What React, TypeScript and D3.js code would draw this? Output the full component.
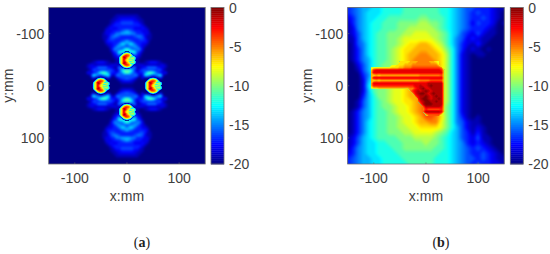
import React from 'react';
import * as d3 from 'd3';

// each character is one grid value: base-36 digit = dB above -20, '.' = nothing there
const fieldA = [ // x -100..100, y -135..135, 5 mm grid
  '00000 00000 00000 01111 11111 00000 00000 00000 0',
  '00000 00000 00000 11222 22221 10000 00000 00000 0',
  '00000 00000 00001 12233 33322 11000 00000 00000 0',
  '00000 00000 00001 23344 44433 21000 00000 00000 0',
  '00000 00000 00012 33333 33333 32100 00000 00000 0',
  '00000 00000 00123 22333 33322 23210 00000 00000 0',
  '00000 00000 00222 33345 65433 32220 00000 00000 0',
  '00000 00000 01223 35566 66553 33221 00000 00000 0',
  '00000 00000 01124 55433 33345 54211 00000 00000 0',
  '00000 00000 01134 43333 33333 44311 00000 00000 0',
  '00000 00000 00233 33345 75433 33320 00000 00000 0',
  '00000 00000 00122 33577 57753 32210 00000 00000 0',
  '00000 00000 00012 35654 34565 32100 00000 00000 0',
  '00000 00000 00002 55447 a7445 52000 00000 00000 0',
  '00000 00000 00001 34898 78984 31000 00000 00000 0',
  '00000 00000 00000 23621 01263 20000 00000 00000 0',
  '00000 00000 00000 12300 00032 10000 00000 00000 0',
  '00000 00000 00000 01100 00011 00000 00000 00000 0',
  '00000 00123 33210 01100 00011 00123 33210 00000 0',
  '00000 12211 11112 22100 00012 22111 11122 10000 0',
  '00000 12235 55532 11641 11461 12355 55322 10000 0',
  '00000 01443 33344 31379 99731 34433 33441 00000 0',
  '00000 32236 9a953 32458 a8542 3359a 96322 30000 0',
  '00000 01875 35782 15544 34455 12875 35781 00000 0',
  '00000 00300 00030 01344 54431 03000 00030 00000 0',
  '00000 00000 00000 00123 33210 00000 00000 00000 0',
  '00000 00000 00000 00011 11100 00000 00000 00000 0',
  '00000 00000 00000 00000 00000 00000 00000 00000 0',
  '00000 00000 00000 00011 11100 00000 00000 00000 0',
  '00000 00000 00000 00123 33210 00000 00000 00000 0',
  '00000 00300 00030 01344 54431 03000 00030 00000 0',
  '00000 01875 35782 15544 34455 12875 35781 00000 0',
  '00000 32236 9a953 32458 a8542 3359a 96322 30000 0',
  '00000 01443 33344 31379 99731 34433 33441 00000 0',
  '00000 12235 55532 11641 11461 12355 55322 10000 0',
  '00000 12211 11112 22100 00012 22111 11122 10000 0',
  '00000 00123 33210 01100 00011 00123 33210 00000 0',
  '00000 00000 00000 01100 00011 00000 00000 00000 0',
  '00000 00000 00000 12300 00032 10000 00000 00000 0',
  '00000 00000 00000 23621 01263 20000 00000 00000 0',
  '00000 00000 00001 34898 78984 31000 00000 00000 0',
  '00000 00000 00002 55447 a7445 52000 00000 00000 0',
  '00000 00000 00012 35654 34565 32100 00000 00000 0',
  '00000 00000 00122 33577 57753 32210 00000 00000 0',
  '00000 00000 00233 33345 75433 33320 00000 00000 0',
  '00000 00000 01134 43333 33333 44311 00000 00000 0',
  '00000 00000 01124 55433 33345 54211 00000 00000 0',
  '00000 00000 01223 35566 66553 33221 00000 00000 0',
  '00000 00000 00222 33345 65433 32220 00000 00000 0',
  '00000 00000 00123 22333 33322 23210 00000 00000 0',
  '00000 00000 00012 33333 33333 32100 00000 00000 0',
  '00000 00000 00001 23344 44433 21000 00000 00000 0',
  '00000 00000 00001 12233 33322 11000 00000 00000 0',
  '00000 00000 00000 11222 22221 10000 00000 00000 0',
  '00000 00000 00000 01111 11111 00000 00000 00000 0',
];

const spotCells = [ // 2 mm grid, x -18..18, y -16..16 round each feed
  '.......00000.......',
  '.....0467a7640.....',
  '....05acdedca50....',
  '...06bdfgggfdb60...',
  '..06bdghihgfcb960..',
  '..6bdgjjhfed766a96.',
  '.07bdfijhfdcbccb97.',
  '.07bdfihedc7667b97.',
  '.07bdfigedccddb97..',
  '.07bdfihedc7667b97.',
  '.07bdfijhfdcbccb97.',
  '..6bdgjjhfed766a96.',
  '..06bdghihgfcb960..',
  '...06bdfgggfdb60...',
  '....05acdedca50....',
  '.....0467a7640.....',
  '.......00000.......',
];
const spotCentres = [[0, -49], [-50, 0], [50, 0], [0, 50]];

const fieldB = [ // x -150..150, y -150..150, 10 mm grid
  '34566 77888 89999 99988 76544 33321 1',
  '34567 77888 89999 99988 76543 43321 0',
  '23567 78899 9999a a9998 76543 34321 0',
  '13567 88999 aaaab baa98 76542 43320 1',
  '12567 88999 aabbb bba98 76543 33210 0',
  '12467 899aa abbcc cbba9 76432 42110 0',
  '11467 899aa bcccc ccba9 75423 21100 0',
  '01457 899aa bcdde edcb9 75321 31000 0',
  '01357 899ab cddee eedca 85312 10100 0',
  '01357 899ab cdeef feedb 85210 11000 0',
  '01356 899ab cdeff ffedb 85210 00000 0',
  '00246 89aab cdeff fffdb 85210 00000 0',
  '00146 89abc cdeef fffdb 85210 00000 0',
  '00035 8aabc cdeef fffdb 85210 00000 0',
  '00026 8aabc cdeef fffdb 85210 00000 0',
  '00027 9aabc cdeef fffdb 85210 00000 0',
  '00026 9aabc cdeef fffdb 85210 00000 0',
  '00036 8aabc cdeef fffdb 85210 00000 0',
  '00146 89abc cddef fffcb 85210 00000 0',
  '00146 89aab ccdef ggfca 85210 00000 0',
  '01356 899ab ccdef gggca 85210 00000 0',
  '01356 899aa bccde ggfda 85310 10000 0',
  '01357 899aa bccde effca 85421 10000 0',
  '01357 899aa bbccd dddca 86421 21000 0',
  '01357 899aa abbcc ccba9 76431 31000 0',
  '12467 89999 aaabb bba98 76432 41100 0',
  '12467 78899 9aaaa baa98 76532 32100 0',
  '13567 78889 9aaaa aa998 76543 43210 0',
  '23567 78888 99999 99988 76543 34321 0',
  '34566 77888 89999 99888 76544 34321 1',
  '34566 77888 88999 99888 76543 43322 1',
];

const hotCells = [ // x -110..40, y -45..55, 5 mm grid: the scanned L
  '..... ..... ..ddd deeef ffffe edc.. .',
  '..... ....c cddde eefff fffff ffd.. .',
  '.cccc ccccd ddeef ffggg ggggg gggf. .',
  '.dhii iiiii iiiii iiiii iiiii iiihd .',
  '.eiii iiiii iiiii iiiii iiiii iiiid .',
  '.eded eeeee eeeee eeeee fffff fffgd .',
  '.eiii iiiii iiiii iiiii iiiii iiiid .',
  '.eded eeeee eeeee eeeee ffffg ggggd .',
  '.eiii iiiii iiiii iiiii iiijj jjjjd .',
  '.ehhh hhhhh hhhhh hhhii jiijk jjjjd .',
  '.cdde eeeee eeeee effhi jkiij jjjjd .',
  '..... ..... ..... .fhij ijkji jjjjd .',
  '..... ..... ..... ..fij kkjij kjjjd .',
  '..... ..... ..... ...gi jjkji jkjjd .',
  '..... ..... ..... ....h jkkji jjkjd .',
  '..... ..... ..... ....f ijkkj jkjjd .',
  '..... ..... ..... ..... gjkkk jjjjd .',
  '..... ..... ..... ..... .gjjj jjjid .',
  '..... ..... ..... ..... .fhgg ggghd .',
  '..... ..... ..... ..... .gjjj jjjid .',
  '..... ..... ..... ..... ..egg gggd. .',
];

const axisTicks = [-100, 0, 100];
const barTicks = [0, -5, -10, -15, -20];

const jetDb = [-20, -17.5, -12.5, -7.5, -2.5, 0];
const jetColors = ['#000080', '#0000ff', '#00ffff', '#ffff00', '#ff0000', '#800000'];
const jet = d3.scaleLinear<string>().domain(jetDb).range(jetColors).clamp(true);

const inkColor = '#404040';
const frameColor = '#6e6e6e';
const plotTop = 7.5;
const plotSize = 156.5;
const fontSans = '"Liberation Sans", Arial, sans-serif';
const bandEdges = [-20.01, ...d3.range(-19.75, 0, 0.5)];

const parseRow = (row: string) => [...row.replace(/ /g, '')];

// filled iso-bands of one value grid, coloured by jet
const Bands = ({ rows, x0, y0, step, x, y, blur }: any) => {
  const grid = rows.map(parseRow);
  const nx = grid[0].length;
  const ny = grid.length;
  const values = grid.flat().map((c: string) => (c === '.' ? NaN : parseInt(c, 36) - 20));
  const bands = d3.contours().size([nx, ny]).thresholds(bandEdges)(values);
  const path = d3.geoPath(
    d3.geoTransform({
      point(u: number, v: number) {
        this.stream.point(x(x0 + (u - 0.5) * step), y(y0 + (v - 0.5) * step));
      },
    })
  );
  return (
    <g filter={`url(#${blur})`}>
      {bands.map((b: any, i: number) => (
        <path key={i} d={path(b) || ''} fill={jet(i === 0 ? -20 : b.value + 0.25)} />
      ))}
    </g>
  );
};

const Panel = ({ id, left, barLeft, caption, children }: any) => {
  const x = d3.scaleLinear().domain([-150, 150]).range([left, left + plotSize]);
  const y = d3.scaleLinear().domain([-150, 150]).range([plotTop, plotTop + plotSize]);
  const barY = d3.scaleLinear().domain([0, -20]).range([plotTop, plotTop + plotSize]);
  const barSteps = d3.range(-20, 0, 0.25);
  return (
    <g fontFamily={fontSans} fontSize={14} fill={inkColor}>
      <clipPath id={`clip-${id}`}>
        <rect x={left} y={plotTop} width={plotSize} height={plotSize} />
      </clipPath>
      <rect x={left} y={plotTop} width={plotSize} height={plotSize} fill={jet(-20)} />
      <g clipPath={`url(#clip-${id})`}>{children(x, y)}</g>
      <rect x={left} y={plotTop} width={plotSize} height={plotSize} fill="none" stroke={frameColor} strokeWidth={0.8} />
      {axisTicks.map(t => (
        <g key={t}>
          <line x1={x(t)} x2={x(t)} y1={plotTop + plotSize} y2={plotTop + plotSize - 1.6} stroke={frameColor} strokeWidth={0.6} />
          <line x1={left} x2={left + 1.6} y1={y(t)} y2={y(t)} stroke={frameColor} strokeWidth={0.6} />
          <text x={x(t)} y={183} textAnchor="middle">{t}</text>
          <text x={left - 4.5} y={y(t) + 5} textAnchor="end">{t}</text>
        </g>
      ))}
      <text x={x(0)} y={201} textAnchor="middle">x:mm</text>
      <text transform={`translate(${left - 36},${y(0)}) rotate(-90)`} textAnchor="middle">y:mm</text>

      {barSteps.map(v => (
        <rect key={v} x={barLeft} y={barY(v + 0.25)} width={13} height={barY(v) - barY(v + 0.25) + 0.4} fill={jet(v + 0.125)} />
      ))}
      <rect x={barLeft} y={plotTop} width={13} height={plotSize} fill="none" stroke={frameColor} strokeWidth={0.8} />
      {barTicks.map(t => (
        <text key={t} x={barLeft + 18} y={barY(t) + 5}>{t}</text>
      ))}

      <text x={x(0) + 15} y={247} textAnchor="middle" fontFamily='"Liberation Serif", serif' fontSize={14} fill="#222">
        (<tspan fontWeight="bold">{caption}</tspan>)
      </text>
    </g>
  );
};

export default function App() {
  return (
    <svg width={550} height={254} style={{ position: 'absolute', left: 0, top: 0, background: '#fff' }}>
      <defs>
        <filter id="blurHalo" x="-5%" y="-5%" width="110%" height="110%" colorInterpolationFilters="sRGB"><feGaussianBlur stdDeviation={1.3} /></filter>
        <filter id="blurWide" x="-5%" y="-5%" width="110%" height="110%" colorInterpolationFilters="sRGB"><feGaussianBlur stdDeviation={1} /></filter>
        <filter id="blurFine" x="-10%" y="-10%" width="120%" height="120%" colorInterpolationFilters="sRGB"><feGaussianBlur stdDeviation={0.5} /></filter>
      </defs>
      <Panel id="a" left={48.7} barLeft={211} caption="a">
        {(x: any, y: any) => (
          <>
            <Bands rows={fieldA} x0={-100} y0={-135} step={5} x={x} y={y} blur="blurHalo" />
            {spotCentres.map(([cx, cy]) => (
              <Bands key={`${cx},${cy}`} rows={spotCells} x0={cx - 18} y0={cy - 16} step={2} x={x} y={y} blur="blurFine" />
            ))}
          </>
        )}
      </Panel>
      <Panel id="b" left={347.7} barLeft={510.3} caption="b">
        {(x: any, y: any) => (
          <>
            <Bands rows={fieldB} x0={-150} y0={-150} step={10} x={x} y={y} blur="blurWide" />
            <Bands rows={hotCells} x0={-110} y0={-45} step={5} x={x} y={y} blur="blurFine" />
          </>
        )}
      </Panel>
    </svg>
  );
}
